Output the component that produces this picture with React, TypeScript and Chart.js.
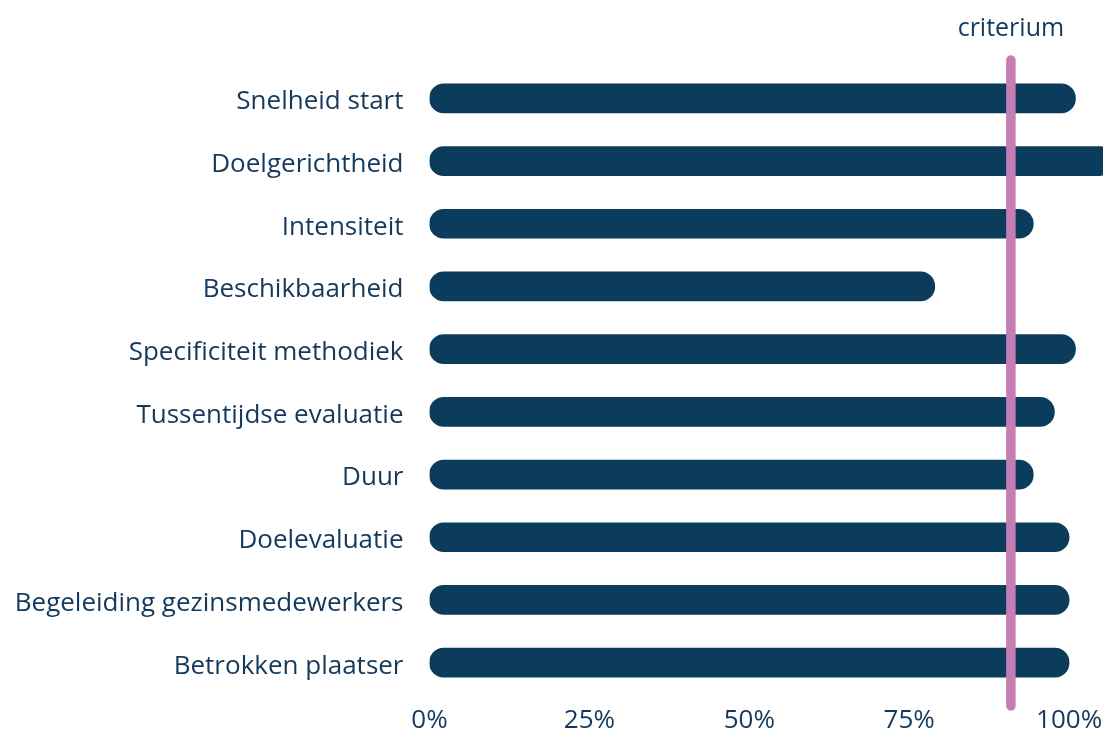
import React, { useEffect, useRef } from "react";
import { Chart, registerables } from "chart.js";

Chart.register(...registerables);

const categories = [
  "Snelheid start",
  "Doelgerichtheid",
  "Intensiteit",
  "Beschikbaarheid",
  "Specificiteit methodiek",
  "Tussentijdse evaluatie",
  "Duur",
  "Doelevaluatie",
  "Begeleiding gezinsmedewerkers",
  "Betrokken plaatser",
];
const scores = [101, 107, 94.4, 79, 101, 97.7, 94.4, 100, 100, 100];
const criterion = 90.9;
const criterionLabel = "criterium";
const tickValues = [0, 25, 50, 75, 100];
const axisMax = 105.3;

const BAR = "#0b3c5b";
const TEXT = "#14395c";
const PINK = "#c57db4";
const FONT = "'Open Sans'";

const criterionPlugin = {
  id: "criterionLine",
  afterDatasetsDraw(chart: any) {
    const { ctx, chartArea, scales } = chart;
    const px = scales.x.getPixelForValue(criterion);
    ctx.save();
    ctx.strokeStyle = PINK;
    ctx.lineWidth = 9.5;
    ctx.lineCap = "round";
    ctx.beginPath();
    ctx.moveTo(px, chartArea.top - 7);
    ctx.lineTo(px, chartArea.bottom + 12);
    ctx.stroke();
    ctx.fillStyle = TEXT;
    ctx.font = `25px ${FONT}`;
    ctx.textAlign = "center";
    ctx.textBaseline = "alphabetic";
    ctx.fillText(criterionLabel, px, chartArea.top - 31);
    ctx.restore();
  },
};

export default function App() {
  const ref = useRef<HTMLCanvasElement | null>(null);
  useEffect(() => {
    if (!ref.current) return;
    const chart = new Chart(ref.current, {
      type: "bar",
      data: {
        labels: categories,
        datasets: [
          {
            data: scores,
            backgroundColor: BAR,
            borderRadius: 15,
            borderSkipped: false,
            barThickness: 29,
          },
        ],
      },
      options: {
        indexAxis: "y",
        animation: false,
        responsive: false,
        layout: { padding: { top: 67, left: 0, right: 0, bottom: 0 } },
        plugins: { legend: { display: false }, tooltip: { enabled: false } },
        scales: {
          x: {
            min: 0,
            max: axisMax,
            grid: { display: false, drawTicks: false },
            border: { display: false },
            afterBuildTicks: (axis: any) => {
              axis.ticks = tickValues.map((v) => ({ value: v }));
            },
            afterFit: (axis: any) => {
              axis.height = 41;
              axis.paddingLeft = 0;
              axis.paddingRight = 0;
            },
            ticks: {
              color: TEXT,
              font: { family: FONT, size: 26 },
              padding: 11,
              maxRotation: 0,
              callback: (v: any) => `${v}%`,
            },
          },
          y: {
            grid: { display: false, drawTicks: false },
            border: { display: false },
            afterFit: (axis: any) => {
              axis.width = 429.5;
              axis.paddingTop = 0;
              axis.paddingBottom = 0;
            },
            ticks: {
              color: TEXT,
              font: { family: FONT, size: 26 },
              padding: 26,
              labelOffset: 3.5,
            },
          },
        },
      } as any,
      plugins: [criterionPlugin],
    });
    return () => chart.destroy();
  }, []);
  return (
    <div style={{ position: "fixed", left: 0, top: 0, width: 1103, height: 735, background: "#fff" }}>
      <canvas ref={ref} width={1103} height={735} style={{ display: "block" }} />
    </div>
  );
}
